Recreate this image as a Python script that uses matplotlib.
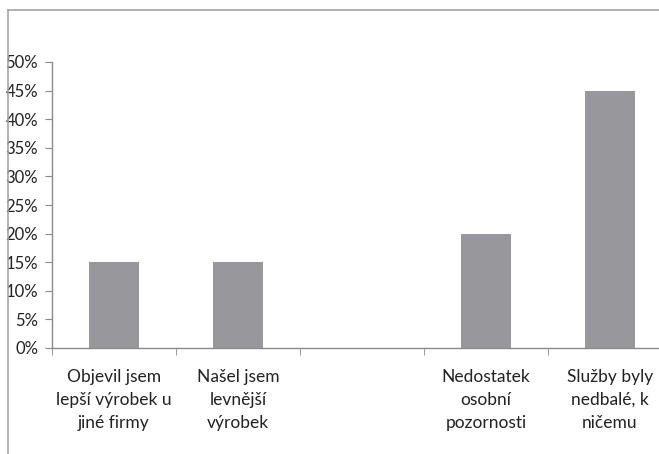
import numpy as np
from matplotlib import pyplot as plt
from matplotlib.lines import Line2D
from matplotlib.ticker import PercentFormatter

plt.rcParams['font.family'] = ['Lato', 'DejaVu Sans']

# Důvody odchodu zákazníků
categories = ['Objevil jsem\nlepší výrobek u\njiné firmy',
              'Našel jsem\nlevnější\nvýrobek',
              '',
              'Nedostatek\nosobní\npozornosti',
              'Služby byly\nnedbalé, k\nničemu']
shares = [0.15, 0.15, 0.0, 0.20, 0.45]
yticks = [0.0, 0.05, 0.10, 0.15, 0.20, 0.25, 0.30, 0.35, 0.40, 0.45, 0.50]

bar_color = '#98989c'
axis_color = '#8a8a8a'
frame_color = '#a6a6a6'

fig = plt.figure(figsize=(6.59, 4.54), dpi=100)

# outer chart frame, only its left and top edges are in view
fig.add_artist(Line2D([8 / 659, 8 / 659], [0.0, 1 - 10 / 454],
                      transform=fig.transFigure, color=frame_color, lw=1.2))
fig.add_artist(Line2D([8 / 659, 1.0], [1 - 10 / 454, 1 - 10 / 454],
                      transform=fig.transFigure, color=frame_color, lw=1.2))

ax = fig.add_axes([52 / 659, 106 / 454, 620 / 659, 286 / 454])

x = np.arange(len(categories))
ax.bar(x, shares, width=0.4, color=bar_color, zorder=2)

ax.set_xlim(-0.5, len(categories) - 0.5)
ax.set_ylim(0, 0.5)

for side in ('top', 'right'):
    ax.spines[side].set_visible(False)
for side in ('left', 'bottom'):
    ax.spines[side].set_color(axis_color)
    ax.spines[side].set_linewidth(1.0)

ax.set_yticks(yticks)
ax.yaxis.set_major_formatter(PercentFormatter(1.0, decimals=0))
ax.tick_params(axis='y', length=5, color=axis_color, pad=5,
               labelsize=12, labelcolor='#222222')

ax.set_xticks(x)
ax.set_xticklabels(categories, fontsize=12.5, color='#222222', linespacing=1.55)
ax.tick_params(axis='x', which='major', length=0, pad=15)
ax.set_xticks(np.arange(len(categories) + 1) - 0.5, minor=True)
ax.tick_params(axis='x', which='minor', length=5, color=axis_color)

fig.savefig('out.png', dpi=100)
